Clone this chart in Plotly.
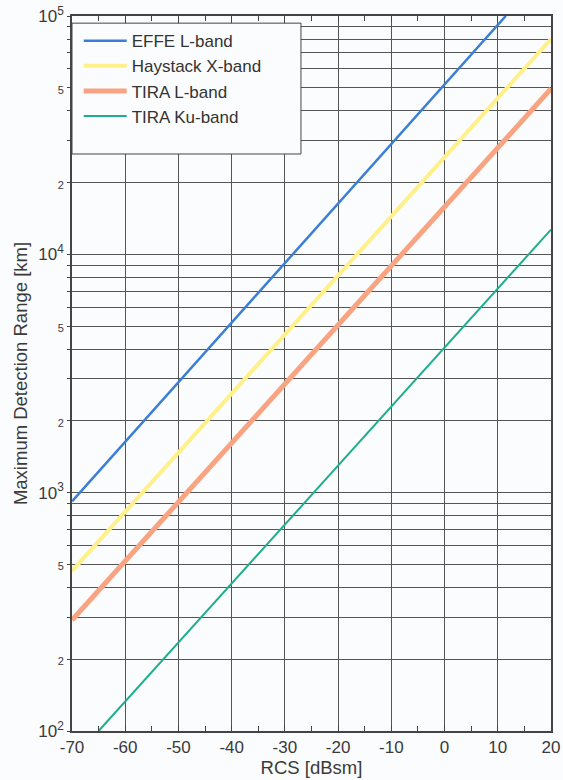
import plotly.graph_objects as go

# Data (endpoints of straight lines on log scale)
effe_x = [-70, 11.5]
effe_y = [920, 100000]
hay_x = [-70, 20]
hay_y = [470, 80000]
tiral_x = [-70, 20]
tiral_y = [292, 49500]
tiraku_x = [-65, 20]
tiraku_y = [100, 12700]

x_ticks = [-70, -60, -50, -40, -30, -20, -10, 0, 10, 20]

y_vals = []
y_text = []
for exp in [2, 3, 4]:
    for m in range(1, 10):
        y_vals.append(m * 10 ** exp)
        if m == 1:
            y_text.append("10<sup>%d</sup>" % exp)
        elif m in (2, 5):
            y_text.append("<span style='font-size:11px'>%d</span>" % m)
        else:
            y_text.append("")
y_vals.append(100000)
y_text.append("10<sup>5</sup>")

fig = go.Figure()
fig.add_trace(go.Scatter(x=effe_x, y=effe_y, mode="lines", name="EFFE L-band",
                         line=dict(color="#3a7fd5", width=2.5)))
fig.add_trace(go.Scatter(x=hay_x, y=hay_y, mode="lines", name="Haystack X-band",
                         line=dict(color="#fff08a", width=4)))
fig.add_trace(go.Scatter(x=tiral_x, y=tiral_y, mode="lines", name="TIRA L-band",
                         line=dict(color="#f8a482", width=5)))
fig.add_trace(go.Scatter(x=tiraku_x, y=tiraku_y, mode="lines", name="TIRA Ku-band",
                         line=dict(color="#1fae8d", width=2)))

fig.update_layout(
    width=563, height=780,
    margin=dict(l=72, r=12, t=16, b=49),
    paper_bgcolor="#fbfcfd",
    plot_bgcolor="#fbfcfd",
    font=dict(family="Liberation Sans, Arial, sans-serif", color="#3a3a3a", size=17),
    showlegend=True,
    legend=dict(x=0.014, y=0.99, xanchor="left", yanchor="top",
                bgcolor="rgba(0,0,0,0)", borderwidth=0, itemwidth=43,
                font=dict(size=17, color="#333")),
    shapes=[dict(type="rect", xref="paper", yref="paper",
                 x0=0.0, x1=0.478, y0=0.807, y1=0.990,
                 fillcolor="#fbfcfd", line=dict(color="#444", width=1),
                 layer="above")],
)

fig.update_xaxes(
    range=[-70, 20], tickvals=x_ticks, ticktext=[str(v) for v in x_ticks],
    showgrid=True, gridcolor="#555", gridwidth=1,
    showline=True, linecolor="#444", linewidth=1.5, mirror="allticks",
    ticks="inside", ticklen=6, tickcolor="#444",
    minor=dict(dtick=5, tick0=-70, ticks="inside", ticklen=5, tickcolor="#444", showgrid=False),
    zeroline=False, automargin=False,
    tickfont=dict(size=17),
    title=dict(text="RCS [dBsm]", font=dict(size=18.5), standoff=2),
)
fig.update_yaxes(
    type="log", range=[2, 5], tickvals=y_vals, ticktext=y_text,
    showgrid=True, gridcolor="#555", gridwidth=1,
    showline=True, linecolor="#444", linewidth=1.5, mirror=True,
    ticks="outside", ticklen=3, tickcolor="#444",
    zeroline=False, automargin=False,
    tickfont=dict(size=17),
    title=dict(text="Maximum Detection Range [km]", font=dict(size=18.5), standoff=6),
)

fig.write_html("out.html", config={"displayModeBar": False},
               post_script="document.body.style.margin='0';")
